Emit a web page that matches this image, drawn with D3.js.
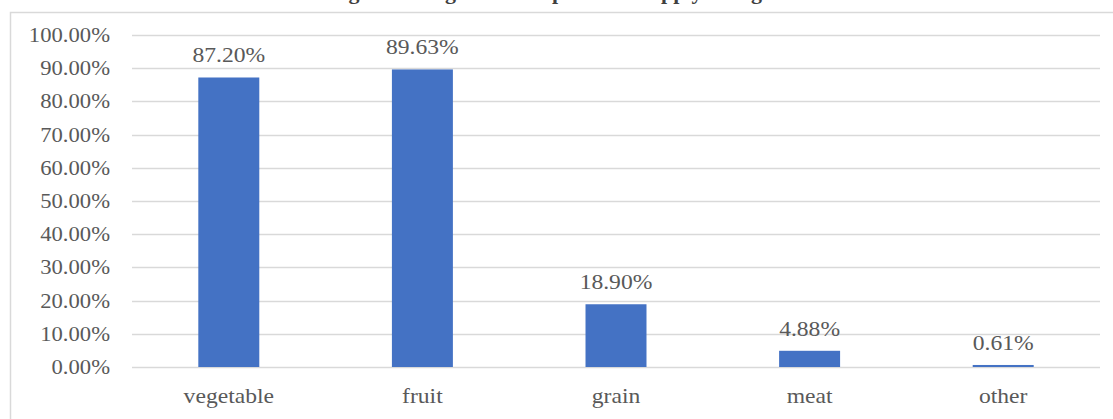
<!DOCTYPE html>
<html><head><meta charset="utf-8">
<script src="https://cdn.jsdelivr.net/npm/d3@7"></script>
<style>body{margin:0;background:#fff}svg{display:block}</style>
</head><body>
<svg id="c" width="1113" height="419"></svg>
<script>
const categories = ["vegetable","fruit","grain","meat","other"];
const values = [87.20, 89.63, 18.90, 4.88, 0.61];
const valueLabels = ["87.20%","89.63%","18.90%","4.88%","0.61%"];
const yTicks = [0,10,20,30,40,50,60,70,80,90,100];
const title = "Categories of agricultural products supply in region";

const svg = d3.select("#c");
const W = 1113, H = 419;
const m = {left:132, right:13, top:35, bottom:52};
const font = "'Liberation Serif','Times New Roman',serif";
const gray = "#595959";
const sx = 1.18;

// frame
svg.append("rect").attr("x",10.5).attr("y",12.5).attr("width",W+10).attr("height",H+10)
  .attr("fill","#fff").attr("stroke","#d9d9d9").attr("stroke-width",1.5);

// title (cut off at top)
svg.append("text").attr("transform",`translate(548,-1) scale(1.1,1)`)
  .attr("text-anchor","middle").attr("font-family",font).attr("font-weight","bold")
  .attr("font-size",20).attr("fill","#404040").text(title);

const x = d3.scaleBand().domain(categories).range([m.left, W - m.right]).paddingInner(0.685).paddingOuter(0.3425);
const y = d3.scaleLinear().domain([0,100]).range([H - m.bottom, m.top]);

// gridlines
svg.append("g").selectAll("line").data(yTicks).join("line")
  .attr("x1",m.left).attr("x2",W - m.right)
  .attr("y1",d=>Math.round(y(d))+0.5).attr("y2",d=>Math.round(y(d))+0.5)
  .attr("stroke","#d9d9d9").attr("stroke-width",1.3);

// y tick labels
svg.append("g").selectAll("text").data(yTicks).join("text")
  .attr("transform",d=>`translate(110,${y(d)+7}) scale(${sx*0.96},1)`)
  .attr("text-anchor","end").attr("font-family",font).attr("font-size",20).attr("fill",gray)
  .text(d=>d.toFixed(2)+"%");

// bars
svg.append("g").selectAll("rect").data(values).join("rect")
  .attr("x",(d,i)=>x(categories[i])).attr("width",x.bandwidth())
  .attr("y",d=>y(d)).attr("height",d=>y(0)-y(d)).attr("fill","#4472C4");

// value labels
svg.append("g").selectAll("text").data(values).join("text")
  .attr("transform",(d,i)=>`translate(${x(categories[i])+x.bandwidth()/2},${y(d)-15}) scale(${sx},1)`)
  .attr("text-anchor","middle").attr("font-family",font).attr("font-size",20).attr("fill",gray)
  .text((d,i)=>valueLabels[i]);

// category labels
svg.append("g").selectAll("text").data(categories).join("text")
  .attr("transform",d=>`translate(${x(d)+x.bandwidth()/2},403) scale(${sx},1)`)
  .attr("text-anchor","middle").attr("font-family",font).attr("font-size",20).attr("fill",gray)
  .text(d=>d);
</script>
</body></html>
